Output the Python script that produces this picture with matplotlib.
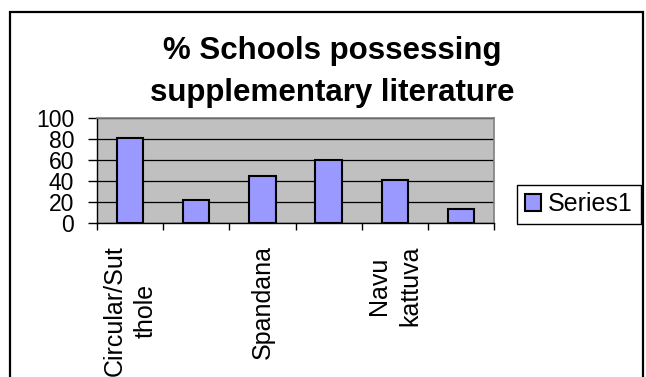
import matplotlib.pyplot as plt
from matplotlib.patches import Rectangle

# Chart data
categories = ['Circular/Sut\nthole', '', 'Spandana', '', 'Navu\nkattuva', '']
values = [81, 22, 45, 60, 41, 13]
yticks = [0, 20, 40, 60, 80, 100]
series_name = 'Series1'
title = '% Schools possessing\nsupplementary literature'

plt.rcParams['font.family'] = ['Liberation Sans', 'DejaVu Sans']

W, H = 646, 377
fig = plt.figure(figsize=(W / 100, H / 100), dpi=100)

# outer chart border (bottom runs off the picture)
fig.patches.append(Rectangle((10 / W, -0.2), (643 - 10) / W, 1.2 - 12 / H,
                             transform=fig.transFigure, fill=False,
                             edgecolor='black', linewidth=1.6))

# plot area
ax = fig.add_axes([97 / W, 1 - 223 / H, (494 - 97) / W, (223 - 118) / H])
ax.set_facecolor('#C0C0C0')
pos = list(range(len(values)))
ax.bar(pos, values, width=0.4, color='#9999FF', edgecolor='black',
       linewidth=1.5, zorder=3, label=series_name)
ax.set_xlim(-0.5, len(values) - 0.5)
ax.set_ylim(0, 100)
ax.set_yticks(yticks)
ax.yaxis.grid(True, color='black', linewidth=0.9)
ax.set_axisbelow(True)

for s in ['top', 'right']:
    ax.spines[s].set_color('#808080')
    ax.spines[s].set_linewidth(1.2)
for s in ['left', 'bottom']:
    ax.spines[s].set_color('black')
    ax.spines[s].set_linewidth(1.0)

ax.tick_params(axis='y', length=6.5, width=1, pad=10, labelsize=16.5)

# tick marks between categories, labels under the bars
ax.set_xticks([p - 0.5 for p in pos] + [pos[-1] + 0.5])
ax.set_xticklabels([])
ax.tick_params(axis='x', which='major', length=5, width=1)
ax.set_xticks(pos, minor=True)
ax.set_xticklabels(categories, minor=True, rotation=90, fontsize=18,
                   va='top', ha='center', multialignment='center', linespacing=1.4)
ax.tick_params(axis='x', which='minor', length=0, pad=16)

fig.text(332 / W, 1 - 36 / H, title, ha='center', va='top', fontsize=22.5,
         fontweight='bold', linespacing=1.5)

leg = ax.legend(loc='center left', bbox_to_anchor=(517 / W, 1 - 204 / H),
                bbox_transform=fig.transFigure, fancybox=False, framealpha=1,
                edgecolor='black', fontsize=18, handlelength=0.65, handleheight=0.65,
                handletextpad=0.3, borderpad=0.3, borderaxespad=0)
leg.get_frame().set_linewidth(1.0)

fig.savefig('out.png', dpi=100, facecolor='white')
